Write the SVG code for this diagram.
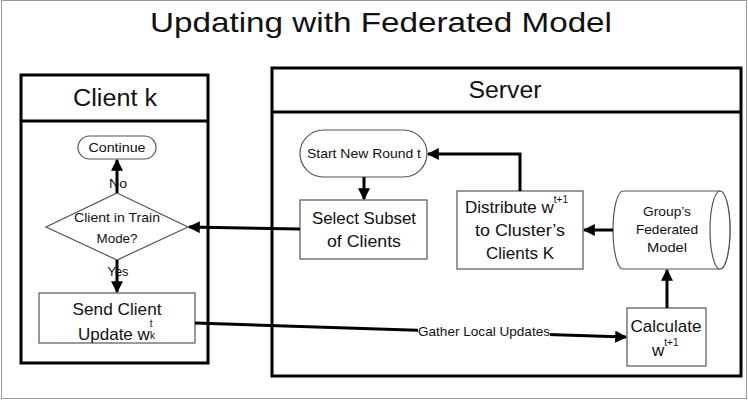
<svg xmlns="http://www.w3.org/2000/svg" width="748" height="403" viewBox="0 0 748 403">
<style>
text{font-family:"Liberation Sans",Arial,sans-serif;fill:#111;text-anchor:middle}
.st{text-anchor:start}
.panel{fill:#fff;stroke:#000;stroke-width:3}
.box{fill:#fff;stroke:#555;stroke-width:1.2}
.conn{fill:none;stroke:#000;stroke-width:3}
.s13{font-size:13px}
.s17{font-size:17px}
.s22{font-size:23px}
</style>
<defs>
<marker id="ah" viewBox="0 0 10 10" refX="9" refY="5" markerWidth="4" markerHeight="4" markerUnits="strokeWidth" orient="auto">
<path d="M0,0 L10,5 L0,10 Z" fill="#000"/>
</marker>
</defs>
<rect x="1.5" y="0.5" width="745" height="398" fill="#fff" stroke="#999" stroke-width="1"/>
<text x="381" y="32" style="font-size:28px" textLength="462" lengthAdjust="spacingAndGlyphs">Updating with Federated Model</text>

<g id="client-panel">
<rect class="panel" x="21" y="75" width="187" height="288"/>
<line x1="21" y1="121" x2="208" y2="121" stroke="#000" stroke-width="3"/>
<text class="s22" x="115" y="106" textLength="84" lengthAdjust="spacingAndGlyphs">Client k</text>
</g>
<g id="server-panel">
<rect class="panel" x="272" y="68" width="469" height="308"/>
<line x1="272" y1="112" x2="741" y2="112" stroke="#000" stroke-width="3"/>
<text class="s22" x="505" y="98" textLength="73" lengthAdjust="spacingAndGlyphs">Server</text>
</g>

<g id="continue">
<rect class="box" x="78" y="136" width="78" height="23" rx="11.5"/>
<text class="s13" x="117" y="152" textLength="57" lengthAdjust="spacingAndGlyphs">Continue</text>
</g>
<g id="train-mode">
<polygon class="box" points="117,193 188,227 117,260 46,227"/>
<text class="s13" x="117" y="222" textLength="86" lengthAdjust="spacingAndGlyphs">Client in Train</text>
<text class="s13" x="117" y="243" textLength="41" lengthAdjust="spacingAndGlyphs">Mode?</text>
</g>
<g id="send-update">
<rect class="box" x="39" y="293" width="156" height="50"/>
<text class="s17" x="117" y="315" textLength="89" lengthAdjust="spacingAndGlyphs">Send Client</text>
<text class="s17 st" x="78" y="340">Update w<tspan style="font-size:10px" dy="-13">t</tspan><tspan style="font-size:10px" x="150" dy="12">k</tspan></text>
</g>

<g id="start-round">
<rect class="box" x="300" y="130" width="127" height="47" rx="23.5"/>
<text class="s13" x="364" y="158" textLength="114" lengthAdjust="spacingAndGlyphs">Start New Round t</text>
</g>
<g id="select-subset">
<rect class="box" x="300" y="200" width="127" height="59"/>
<text class="s17" x="364" y="224" textLength="104" lengthAdjust="spacingAndGlyphs">Select Subset</text>
<text class="s17" x="364" y="247" textLength="74" lengthAdjust="spacingAndGlyphs">of Clients</text>
</g>
<g id="distribute">
<rect class="box" x="457" y="191" width="126" height="78"/>
<text class="s17 st" x="465" y="213">Distribute w<tspan style="font-size:10px" dy="-10">t+1</tspan></text>
<text class="s17" x="520" y="236" textLength="90" lengthAdjust="spacingAndGlyphs">to Cluster’s</text>
<text class="s17" x="520" y="259" textLength="68" lengthAdjust="spacingAndGlyphs">Clients K</text>
</g>
<g id="federated-model">
<path class="box" d="M623,191 L720,191 A10,39 0 0 1 720,269 L623,269 A10,39 0 0 1 623,191 Z"/>
<ellipse class="box" cx="720" cy="230" rx="10" ry="39" fill="none"/>
<text class="s13" x="667" y="216" textLength="48" lengthAdjust="spacingAndGlyphs">Group’s</text>
<text class="s13" x="667" y="234" textLength="62" lengthAdjust="spacingAndGlyphs">Federated</text>
<text class="s13" x="667" y="252" textLength="40" lengthAdjust="spacingAndGlyphs">Model</text>
</g>
<g id="calculate">
<rect class="box" x="627" y="308" width="79" height="58"/>
<text class="s17" x="666" y="332" textLength="71" lengthAdjust="spacingAndGlyphs">Calculate</text>
<text class="s17 st" x="652" y="356">w<tspan style="font-size:10px" dy="-10">t+1</tspan></text>
</g>

<g id="connectors">
<line class="conn" x1="117" y1="193" x2="117" y2="160" marker-end="url(#ah)"/>
<line class="conn" x1="117" y1="260" x2="117" y2="292" marker-end="url(#ah)"/>
<line class="conn" x1="300" y1="229" x2="189" y2="227" marker-end="url(#ah)"/>
<line class="conn" x1="364" y1="177" x2="364" y2="199" marker-end="url(#ah)"/>
<polyline class="conn" points="520,191 520,154 428,154" marker-end="url(#ah)"/>
<line class="conn" x1="613" y1="230" x2="584" y2="230" marker-end="url(#ah)"/>
<line class="conn" x1="667" y1="308" x2="667" y2="270" marker-end="url(#ah)"/>
<line class="conn" x1="195" y1="323" x2="626" y2="337" marker-end="url(#ah)"/>
<rect x="418" y="323" width="132" height="16" fill="#fff"/>
<text class="s13" x="484" y="336" textLength="132" lengthAdjust="spacingAndGlyphs">Gather Local Updates</text>
<text class="s13" x="118" y="188" textLength="18" lengthAdjust="spacingAndGlyphs">No</text>
<text class="s13" x="118" y="276" textLength="21" lengthAdjust="spacingAndGlyphs">Yes</text>
</g>
</svg>
